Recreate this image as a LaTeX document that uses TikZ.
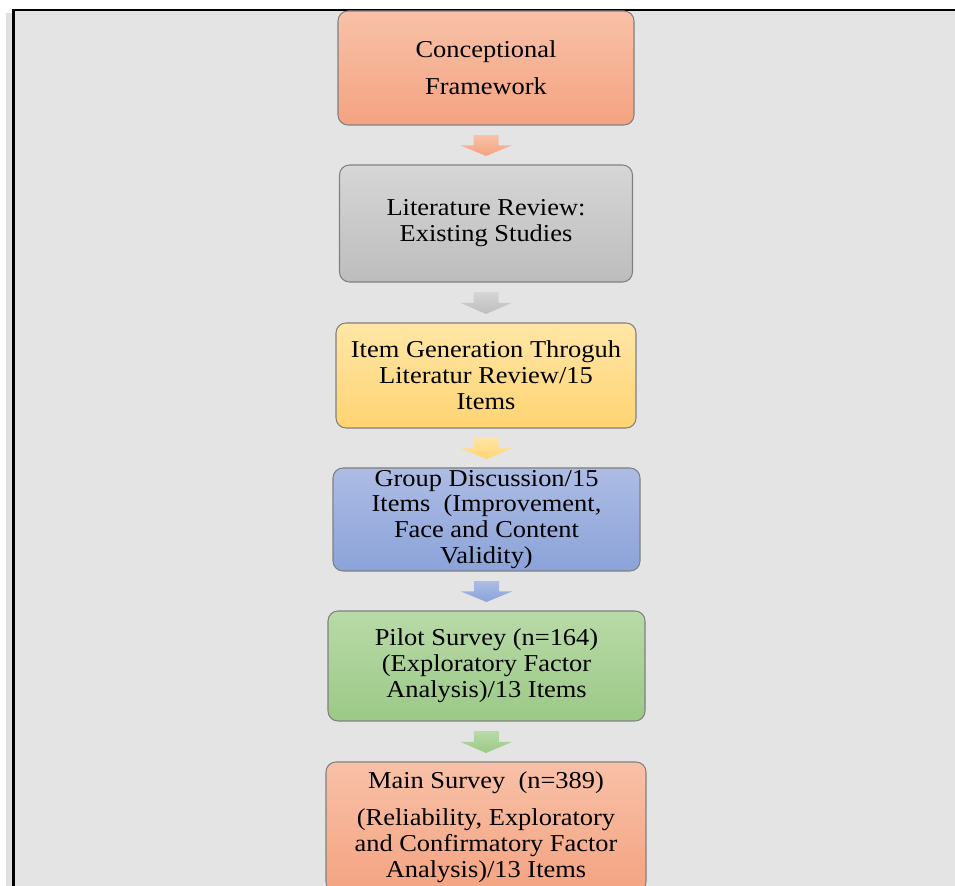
\documentclass[tikz,border=0pt]{standalone}
\usepackage{fontspec}
\setmainfont{Liberation Serif}[FakeStretch=1.09]
\usepackage{tikz}
\usetikzlibrary{calc}

\definecolor{salmonTop}{HTML}{F8C1A8}
\definecolor{salmonBot}{HTML}{F4A381}
\definecolor{greyTop}{HTML}{D6D6D6}
\definecolor{greyBot}{HTML}{BDBDBD}
\definecolor{yellowTop}{HTML}{FFE6A6}
\definecolor{yellowBot}{HTML}{FFD472}
\definecolor{blueTop}{HTML}{ADBCE4}
\definecolor{blueBot}{HTML}{8BA3D9}
\definecolor{greenTop}{HTML}{B9DAA8}
\definecolor{greenBot}{HTML}{9BC987}
\definecolor{panel}{HTML}{E4E4E4}

\newcommand{\flowarrow}[3]{%
  \path ($(#1.south)+(0,-0.19)$) coordinate (top)
        ($(#2.north)+(0,0.17)$) coordinate (tip)
        ($(top)!0.5!(tip)$) coordinate (mid);
  \shade[top color=#3Top, bottom color=#3Bot]
    ($(top)+(-0.25,0)$) -- ($(top)+(0.25,0)$) -- ($(mid)+(0.25,0)$) -- ($(mid)+(0.51,0)$)
    -- (tip) -- ($(mid)+(-0.51,0)$) -- ($(mid)+(-0.25,0)$) -- cycle;
}

\begin{document}
\begin{tikzpicture}[stage/.style={draw=black!50, line width=0.6pt, rounded corners=0.2cm, align=center, inner sep=0pt, font=\fontsize{13.8}{14.7}\selectfont}]
\useasboundingbox (0,0) rectangle (19.1,17.72);
\clip (0,0) rectangle (19.1,17.72);

\draw[black!12, line width=3pt] (0.18,-1) -- (0.18,17.46);
\draw[fill=panel, line width=1.5pt] (0.27,-1) rectangle (20,17.52);

\node[stage, minimum width=5.92cm, minimum height=2.28cm, top color=salmonTop, bottom color=salmonBot] (concept) at (9.72,16.36) {Conceptional\\[0.22cm]Framework};
\node[stage, minimum width=5.86cm, minimum height=2.34cm, top color=greyTop, bottom color=greyBot] (review) at (9.72,13.25) {Literature Review:\\Existing Studies};
\node[stage, minimum width=6.0cm, minimum height=2.1cm, top color=yellowTop, bottom color=yellowBot] (items) at (9.72,10.21) {Item Generation Throguh\\Literatur Review/15\\Items};
\node[stage, minimum width=6.14cm, minimum height=2.06cm, top color=blueTop, bottom color=blueBot] (group) at (9.73,7.33) {Group Discussion/15\\Items\ \ (Improvement,\\Face and Content\\Validity)};
\node[stage, minimum width=6.34cm, minimum height=2.2cm, top color=greenTop, bottom color=greenBot] (pilot) at (9.73,4.40) {Pilot Survey\ (n=164)\\(Exploratory Factor\\Analysis)/13 Items};
\node[stage, minimum width=6.4cm, minimum height=2.6cm, top color=salmonTop, bottom color=salmonBot] (main) at (9.72,1.18) {Main Survey\ \ (n=389)\\[0.22cm](Reliability, Exploratory\\and Confirmatory Factor\\Analysis)/13 Items};

\flowarrow{concept}{review}{salmon}
\flowarrow{review}{items}{grey}
\flowarrow{items}{group}{yellow}
\flowarrow{group}{pilot}{blue}
\flowarrow{pilot}{main}{green}
\end{tikzpicture}
\end{document}
